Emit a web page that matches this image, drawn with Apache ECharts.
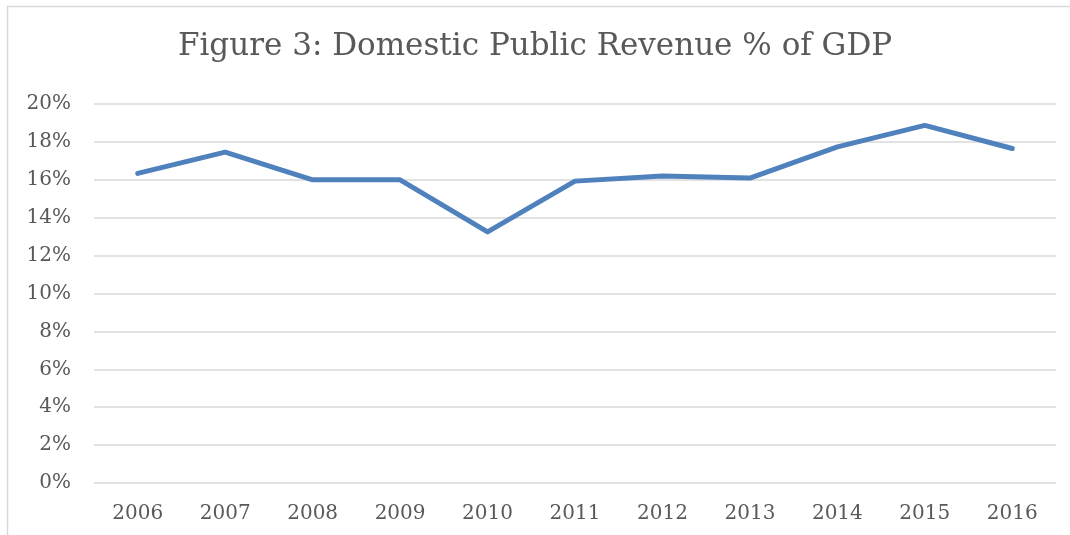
<!DOCTYPE html>
<html>
<head>
<meta charset="utf-8">
<script src="https://cdn.jsdelivr.net/npm/echarts@6/dist/echarts.min.js"></script>
<style>
  html, body { margin: 0; padding: 0; background: #fff; }
  #chart { width: 1070px; height: 535px; }
</style>
</head>
<body>
<div id="chart"></div>
<script>
// data
const years = ['2006', '2007', '2008', '2009', '2010', '2011', '2012', '2013', '2014', '2015', '2016'];
const revenuePct = [16.34, 17.46, 16.0, 16.0, 13.25, 15.93, 16.2, 16.09, 17.74, 18.87, 17.65];
const yTicks = [0, 2, 4, 6, 8, 10, 12, 14, 16, 18, 20];

const font = 'DejaVu Serif';
const textColor = '#595959';

const myChart = echarts.init(document.getElementById('chart'));
myChart.setOption({
  animation: false,
  title: {
    text: 'Figure 3: Domestic Public Revenue % of GDP',
    left: 'center',
    top: 26,
    textStyle: { fontFamily: font, fontSize: 31, fontWeight: 'normal', color: textColor },
  },
  graphic: [{
    type: 'rect',
    shape: { x: 7.5, y: 6.5, width: 1200, height: 700 },
    style: { fill: 'none', stroke: '#d9d9d9', lineWidth: 1.5 },
    silent: true,
  }],
  grid: { left: 94, right: 14, top: 104, bottom: 52 },
  xAxis: {
    type: 'category',
    data: years,
    boundaryGap: true,
    axisLine: { show: false },
    axisTick: { show: false },
    axisLabel: { fontFamily: font, fontSize: 20, color: textColor, margin: 21 },
  },
  yAxis: {
    type: 'value',
    min: yTicks[0],
    max: yTicks[yTicks.length - 1],
    interval: 2,
    axisLine: { show: false },
    axisTick: { show: false },
    splitLine: { lineStyle: { color: '#d9d9d9', width: 1.5 } },
    axisLabel: { fontFamily: font, fontSize: 20, color: textColor, margin: 23, formatter: '{value}%' },
  },
  series: [{
    type: 'line',
    data: revenuePct,
    symbol: 'none',
    lineStyle: { color: '#4f81bd', width: 5, cap: 'round', join: 'round' },
  }],
});
</script>
</body>
</html>
